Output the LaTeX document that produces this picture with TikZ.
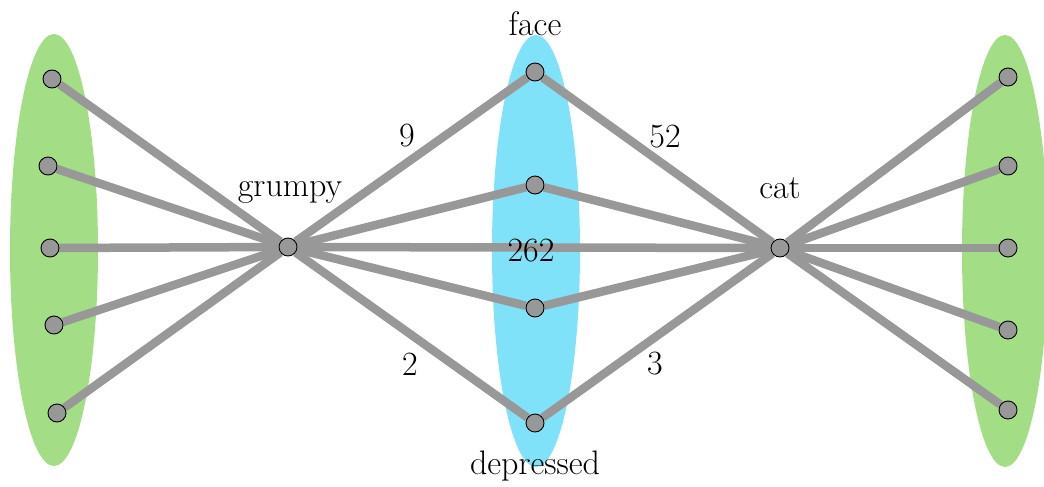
\documentclass[tikz,border=0pt]{standalone}
\usepackage{fontspec}
\usetikzlibrary{backgrounds}
\definecolor{leafgreen}{RGB}{163,221,133}
\definecolor{skyblue}{RGB}{128,226,248}
\definecolor{linkgray}{RGB}{152,152,152}

\begin{document}
\begin{tikzpicture}[
  x=1pt, y=-1pt,
  font=\fontsize{34}{38}\selectfont,
  dot/.style={circle, draw=black, line width=0.9pt, fill=linkgray,
    minimum size=18pt, inner sep=0pt},
  link/.style={draw=linkgray, line width=8.5pt},
  word/.style={inner sep=0pt}
]
\useasboundingbox (0,0) rectangle (1044,487);

% left context words
\node[dot] (l1) at (52,79) {};
\node[dot] (l2) at (48,166) {};
\node[dot] (l3) at (50,248) {};
\node[dot] (l4) at (54,325) {};
\node[dot] (l5) at (57,413) {};

% middle words
\node[dot] (face) at (535,72) {};
\node[dot] (m2) at (535,185) {};
\node[dot] (m3) at (535,308) {};
\node[dot] (depressed) at (535,423) {};

% right context words
\node[dot] (r1) at (1008,77) {};
\node[dot] (r2) at (1008,166) {};
\node[dot] (r3) at (1008,248) {};
\node[dot] (r4) at (1008,330) {};
\node[dot] (r5) at (1008,410) {};

% the two words
\node[dot] (grumpy) at (288,247) {};
\node[dot] (cat) at (780,248) {};

\node[word] at (290,192) {grumpy};
\node[word] at (780,188) {cat};
\node[word] at (535,24) {face};
\node[word] at (535,466) {depressed};

\node[word] at (407,136) {9};
\node[word] at (665,137) {52};
\node[word] at (531,251) {262};
\node[word] at (410,364) {2};
\node[word] at (655,364) {3};

\begin{scope}[on background layer]
\fill[leafgreen] (54,250) ellipse (44 and 216);
\fill[skyblue] (536,251) ellipse (44 and 216);
\fill[leafgreen] (1005,251) ellipse (43 and 216);

\draw[link] (l1) -- (grumpy);
\draw[link] (l2) -- (grumpy);
\draw[link] (l3) -- (grumpy);
\draw[link] (l4) -- (grumpy);
\draw[link] (l5) -- (grumpy);

\draw[link] (grumpy) -- (face);
\draw[link] (grumpy) -- (m2);
\draw[link] (grumpy) -- (cat);
\draw[link] (grumpy) -- (m3);
\draw[link] (grumpy) -- (depressed);

\draw[link] (face) -- (cat);
\draw[link] (m2) -- (cat);
\draw[link] (m3) -- (cat);
\draw[link] (depressed) -- (cat);

\draw[link] (cat) -- (r1);
\draw[link] (cat) -- (r2);
\draw[link] (cat) -- (r3);
\draw[link] (cat) -- (r4);
\draw[link] (cat) -- (r5);
\end{scope}
\end{tikzpicture}
\end{document}
